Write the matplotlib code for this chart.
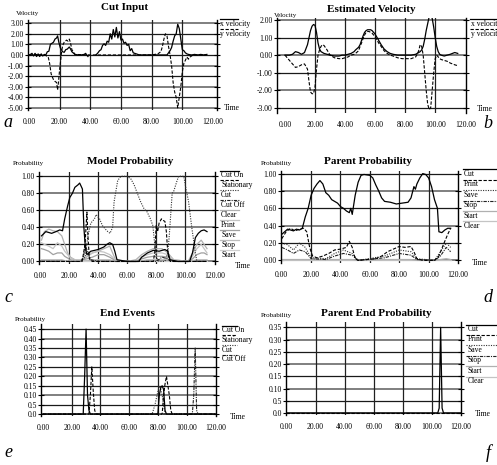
import numpy as np
import matplotlib
matplotlib.use("Agg")
import matplotlib.pyplot as plt
from matplotlib.lines import Line2D

plt.rcParams['font.family'] = ['Liberation Serif', 'DejaVu Serif']

W, H = 497, 465

# ---------------- data ----------------
# a: Cut Input
cut_t_x = [0, 1, 2, 3, 4, 5, 6, 7, 8, 9, 10, 11, 12, 13, 14, 15, 16, 17, 18, 18.7, 19.5, 20.5, 22, 23, 24, 25,
           26.3, 27, 28, 30, 32, 34, 36, 37, 37.6, 38.5, 39, 43.7, 45, 46, 47, 48, 49, 50, 51, 52, 53, 54, 55, 56,
           57, 58, 59, 60, 61, 62, 63, 64, 65, 66, 67, 68, 70, 72, 76, 80, 85, 88, 90, 91, 92, 93, 94, 95, 96,
           97, 98, 99, 100, 101, 102, 103, 104, 106, 108, 110, 112, 114, 116]
cut_x_vel = [0.0, 0.05, 0.15, -0.1, 0.15, -0.15, 0.1, -0.15, 0.1, -0.1, 0.05, 0.0, 0.3, 0.35, 1.0, 1.1, 1.2, 1.5, 1.6, 1.8, 1.2, 0.65, 0.3, 0.25, 0.5, 0.55,
             0.75, 0.6, 0.3, 0.05, 0.0, 0.0, 0.05, 0.15, 0.0, -0.15, np.nan, 0.0, 0.2, 0.4, 0.5, 0.9, 1.05, 0.9, 1.3, 1.2, 2.0, 1.5, 2.4, 1.7,
             2.6, 1.6, 2.2, 1.4, 1.5, 1.1, 1.2, 0.9, 1.0, 0.4, 0.6, 0.2, 0.1, 0.0, 0.0, 0.0, 0.0, 0.0, 0.0, 0.2, 0.4, 0.7, 1.3, 1.8, 2.0,
             2.9, 2.5, 1.5, 0.5, 0.4, 0.2, 0.1, 0.05, 0.0, 0.05, 0.0, 0.05, 0.0, 0.05]
cut_t_y = [0, 4, 8, 11, 12.6, 13.5, 14.5, 15.9, 17, 18, 18.7, 19.3, 20, 20.7, 21.3, 22, 23, 24.5, 25.5, 26.3, 27, 28, 30,
           40, 60, 80, 84, 86, 87, 88, 89, 90, 91, 92, 93, 94, 95, 96, 97, 98, 99, 100, 101, 102, 103, 104, 105, 107, 110, 116]
cut_y_vel = [0.0, 0.05, 0.0, -0.05, -0.2, -0.8, -1.8, -2.3, -2.5, -2.6, -3.3, -2.5, -1.4, -0.5, 0.3, 0.9, 1.2, 1.4, 1.3, 1.5, 1.2, 0.5, 0.05,
             0.0, 0.0, 0.0, 0.1, 0.3, 0.8, 1.5, 2.0, 1.8, 0.8, 0.0, -1.0, -2.6, -3.5, -4.0, -5.0, -4.0, -3.0, -1.6, -0.8, -0.5, -0.2, -0.4, -0.2, 0.0, 0.0, 0.0]

# b: Estimated Velocity
est_t = [0, 3, 5, 7, 9, 11, 13, 15, 16, 17, 18, 19, 20, 21, 22, 23, 24, 25, 26, 28, 30, 33, 36, 38, 40, 42, 44, 46, 47,
         49, 50, 51, 52, 53, 54, 55, 56, 57, 58, 59, 60, 61, 62, 63, 64, 66, 68, 70, 72, 75, 78, 80, 84, 87, 88, 89,
         90, 91, 92, 93, 94, 95, 96, 97, 98, 99, 100, 101, 102, 103, 104, 106, 108, 110, 113, 115]
est_x_vel = [0.0, 0.0, 0.05, 0.2, 0.15, 0.05, 0.15, 0.6, 1.0, 1.4, 1.65, 1.75, 1.7, 1.3, 0.7, 0.35, 0.2, 0.15, 0.1, 0.05, 0.0, -0.05, -0.05, 0.0, 0.0, 0.05, 0.1, 0.2, 0.3,
             0.45, 0.6, 0.85, 1.1, 1.3, 1.4, 1.45, 1.45, 1.45, 1.4, 1.3, 1.2, 1.05, 0.9, 0.75, 0.6, 0.35, 0.2, 0.1, 0.05, 0.0, 0.0, 0.0, 0.0, 0.05, 0.1, 0.15,
             0.2, 0.3, 0.5, 0.9, 1.4, 1.8, 2.2, 2.25, 2.1, 1.6, 1.0, 0.5, 0.2, 0.05, 0.0, -0.05, 0.0, 0.05, 0.15, 0.1]
est_y_vel = [0.0, -0.3, -0.5, -0.7, -0.65, -0.55, -0.5, -0.8, -1.5, -2.1, -2.2, -2.2, -1.8, -0.8, 0.0, 0.3, 0.5, 0.6, 0.55, 0.3, 0.0, -0.15, -0.2, -0.2, -0.15, -0.1, 0.0, 0.05, 0.1,
             0.25, 0.5, 0.7, 0.95, 1.15, 1.3, 1.35, 1.35, 1.3, 1.25, 1.15, 1.05, 0.9, 0.75, 0.6, 0.5, 0.25, 0.1, 0.0, -0.05, -0.15, -0.2, -0.2, -0.2, -0.1, 0.05, 0.25,
             0.6, 0.5, 0.0, -1.0, -2.0, -2.8, -3.1, -3.0, -2.0, -1.0, -0.2, 0.0, -0.1, -0.2, -0.25, -0.3, -0.35, -0.45, -0.55, -0.6]

# c: Model Probability
mp_t = [1, 4, 8, 11, 13.6, 15.5, 17, 19, 20.5, 22.3, 24, 26.2, 27.3, 28.4, 29.2, 30.2, 31.3, 32.3, 35, 40, 44, 46, 48, 50,
        51.5, 53, 60, 68, 70, 74, 78, 82, 86, 88, 89.5, 95, 103, 105, 107, 109, 111, 113, 115]
mp_cut_on = [0.30, 0.35, 0.33, 0.35, 0.37, 0.36, 0.5, 0.65, 0.75, 0.8, 0.87, 0.9, 0.92, 0.88, 0.85, 0.4, 0.15, 0.08, 0.12, 0.14, 0.17, 0.2, 0.22, 0.2,
             0.12, 0.02, 0.0, 0.0, 0.05, 0.1, 0.13, 0.12, 0.14, 0.12, 0.02, 0.0, 0.0, 0.1, 0.28, 0.33, 0.36, 0.37, 0.35]
mp_t2 = [1, 20, 29, 31, 32.3, 33, 34, 36, 60, 78, 79, 80, 81, 82, 83.6, 85, 86, 87, 88, 89, 90, 100, 115]
mp_stationary = [0.0, 0.0, 0.0, 0.2, 0.58, 0.3, 0.03, 0.0, 0.0, 0.0, 0.1, 0.42, 0.35, 0.45, 0.5, 0.48, 0.47, 0.35, 0.1, 0.02, 0.0, 0.0, 0.0]
mp_t3 = [1, 28, 31, 33, 35, 37.5, 38.6, 41, 43, 46, 48.2, 50, 51, 53.5, 55.7, 60, 62.5, 64.8, 67, 69.3, 71.6, 73.8, 76,
         77.7, 79, 80, 82, 86, 88, 89, 91, 92, 94.4, 95.5, 99, 100, 102.3, 104.5, 107, 108, 115]
mp_cut = [0.0, 0.0, 0.05, 0.3, 0.45, 0.5, 0.55, 0.5, 0.42, 0.36, 0.33, 0.4, 0.7, 0.95, 1.0, 1.0, 0.97, 0.9, 0.8, 0.7, 0.62, 0.58, 0.5,
          0.42, 0.2, 0.05, 0.0, 0.0, 0.1, 0.3, 0.8, 0.82, 0.95, 1.0, 1.0, 0.9, 0.7, 0.4, 0.1, 0.0, 0.0]
mp_t4 = [1, 28, 30, 31, 33, 35, 40, 80, 84, 88, 90, 100, 115]
mp_cut_off = [0.0, 0.0, 0.05, 0.2, 0.1, 0.02, 0.0, 0.0, 0.05, 0.03, 0.0, 0.0, 0.0]
mp_tg = [1, 3, 6, 9, 12, 15, 17, 19, 21, 24, 28, 32, 36, 40, 44, 48, 50, 52, 60, 66, 70, 74, 78, 84, 88, 92, 102, 105, 108, 111, 113, 115]
mp_clear = [0.25, 0.35, 0.38, 0.36, 0.35, 0.3, 0.2, 0.1, 0.05, 0.02, 0.0, 0.05, 0.1, 0.12, 0.15, 0.18, 0.1, 0.02, 0.0, 0.02, 0.08, 0.12, 0.15, 0.15, 0.1, 0.02, 0.0, 0.1, 0.2, 0.25, 0.2, 0.15]
mp_print = [0.22, 0.2, 0.18, 0.15, 0.22, 0.18, 0.12, 0.08, 0.04, 0.02, 0.02, 0.06, 0.1, 0.12, 0.11, 0.08, 0.05, 0.01, 0.0, 0.0, 0.05, 0.08, 0.1, 0.1, 0.08, 0.02, 0.0, 0.06, 0.15, 0.2, 0.15, 0.1]
mp_save = [0.15, 0.14, 0.12, 0.08, 0.1, 0.1, 0.06, 0.04, 0.02, 0.01, 0.01, 0.03, 0.05, 0.08, 0.08, 0.05, 0.03, 0.0, 0.0, 0.0, 0.03, 0.05, 0.06, 0.06, 0.05, 0.0, 0.0, 0.03, 0.08, 0.1, 0.1, 0.08]
mp_stop = [0.02, 0.02, 0.02, 0.02, 0.02, 0.02, 0.01, 0.01, 0.01, 0.01, 0.01, 0.01, 0.02, 0.02, 0.02, 0.02, 0.01, 0.0, 0.0, 0.0, 0.01, 0.02, 0.02, 0.02, 0.02, 0.01, 0.0, 0.01, 0.02, 0.02, 0.02, 0.02]
mp_start = [0.005] * len(mp_tg)

# d: Parent Probability
pp_t = [0, 2, 4, 6, 8, 10, 12, 14, 16, 18, 20, 22, 24, 26, 28, 30, 32, 34, 36, 38, 40, 42, 44, 46, 47, 48, 50, 52, 54, 56,
        60, 62, 64, 66, 68, 70, 74, 78, 82, 86, 88, 90, 91, 92, 94, 96, 98, 100, 102, 104, 106, 107, 109, 111, 113, 115]
pp_cut = [0.3, 0.33, 0.36, 0.35, 0.34, 0.36, 0.35, 0.37, 0.5, 0.6, 0.75, 0.83, 0.88, 0.92, 0.88, 0.78, 0.75, 0.7, 0.68, 0.66, 0.62, 0.6, 0.57, 0.55, 0.6, 0.53, 0.75, 0.9, 0.98, 0.99,
          0.98, 0.95, 0.87, 0.8, 0.72, 0.68, 0.67, 0.65, 0.66, 0.67, 0.72, 0.85, 0.82, 0.88, 0.95, 1.0, 0.99, 0.95, 0.85, 0.7, 0.6, 0.33, 0.32, 0.35, 0.37, 0.37]
pp_t2 = [0, 3, 6, 9, 12, 15, 17, 19, 21, 24, 28, 32, 36, 40, 44, 46, 48, 50, 52, 64, 68, 72, 76, 80, 84, 88, 90, 92, 96, 104, 107, 110, 113, 115]
pp_print = [0.25, 0.33, 0.37, 0.34, 0.36, 0.37, 0.33, 0.15, 0.05, 0.03, 0.05, 0.08, 0.12, 0.13, 0.15, 0.22, 0.15, 0.02, 0.0, 0.02, 0.05, 0.1, 0.13, 0.16, 0.15, 0.16, 0.1, 0.02, 0.0, 0.0, 0.05, 0.18, 0.3, 0.37]
pp_t3 = [0, 4, 8, 12, 16, 20, 30, 36, 42, 48, 52, 70, 80, 88, 92, 104, 108, 112, 115]
pp_save = [0.2, 0.18, 0.12, 0.2, 0.15, 0.03, 0.02, 0.08, 0.12, 0.08, 0.0, 0.05, 0.12, 0.1, 0.02, 0.0, 0.1, 0.2, 0.15]
pp_stop = [0.15, 0.12, 0.08, 0.12, 0.1, 0.02, 0.01, 0.05, 0.08, 0.06, 0.0, 0.03, 0.08, 0.06, 0.01, 0.0, 0.05, 0.15, 0.1]
pp_start = [0.01, 0.01, 0.01, 0.01, 0.01, 0.01, 0.01, 0.01, 0.01, 0.01, 0.0, 0.01, 0.01, 0.01, 0.0, 0.0, 0.01, 0.02, 0.01]
pp_clear = [0.0] * len(pp_t3)

# e: End Events
ee_t = [0, 28, 29, 30, 31, 32, 33, 34, 35, 36, 37, 76, 78, 80, 81, 82, 83, 84, 85, 86, 87, 88, 89, 90, 104, 105, 106, 107, 108, 120]
ee_cut_on = [0, 0, 0.2, 0.45, 0.1, 0.02, 0, 0, 0, 0, 0, 0, 0, 0, 0.1, 0.14, 0.15, 0.13, 0.02, 0, 0, 0, 0, 0, 0, 0, 0, 0, 0, 0]
ee_stationary = [0, 0, 0, 0, 0, 0, 0.1, 0.25, 0.12, 0.02, 0, 0, 0, 0, 0, 0, 0, 0.1, 0.16, 0.2, 0.15, 0.1, 0.02, 0, 0, 0, 0, 0, 0, 0]
ee_cut = [0, 0, 0, 0, 0, 0, 0, 0, 0, 0, 0, 0, 0.05, 0.12, 0.15, 0.13, 0.1, 0.05, 0, 0, 0, 0, 0, 0, 0, 0, 0, 0, 0, 0]
ee_cut_off = [0, 0, 0, 0, 0, 0, 0, 0, 0, 0, 0, 0, 0, 0, 0, 0, 0, 0, 0, 0, 0, 0, 0, 0, 0, 0.1, 0.35, 0.02, 0, 0]

# f: Parent End Probability
pe_t = [0, 104, 105, 106, 107, 108, 120]
pe_cut = [0, 0, 0.02, 0.35, 0.02, 0, 0]
pe_zero = [0, 0, 0, 0, 0, 0, 0]

time_ticks = [0, 20, 40, 60, 80, 100, 120]
time_labels = ['%.2f' % v for v in time_ticks]
vel_ticks_a = [3, 2, 1, 0, -1, -2, -3, -4, -5]
vel_ticks_b = [2, 1, 0, -1, -2, -3]
prob_ticks = [0, 0.2, 0.4, 0.6, 0.8, 1.0]
end_ticks_e = [0, 0.05, 0.10, 0.15, 0.20, 0.25, 0.30, 0.35, 0.40, 0.45]
end_ticks_f = [0, 0.05, 0.10, 0.15, 0.20, 0.25, 0.30, 0.35]
end_labels = ['0.0', '0.5', '0.10', '0.15', '0.20', '0.25', '0.30', '0.35', '0.40', '0.45']

# ---------------- figure ----------------
fig = plt.figure(figsize=(W / 100, H / 100), dpi=100)

SOLID = dict(color='black', lw=0.9)
DASH = dict(color='black', lw=0.8, dashes=(3, 1.5))
DOT = dict(color='#333333', lw=0.8, dashes=(1, 1.2))
DDOT = dict(color='#222222', lw=0.8, dashes=(3, 1, 1, 1))


def fx(x):
    return x / W


def fy(y):
    return 1 - y / H


def make_axes(l, t, r, b, xlim, ylim, yticks, ylabels):
    ax = fig.add_axes([fx(l), fy(b), fx(r - l), (b - t) / H])
    ax.set_xlim(*xlim)
    ax.set_ylim(*ylim)
    for s in ['top', 'bottom']:
        ax.spines[s].set_visible(False)
    for s in ['left', 'right']:
        ax.spines[s].set_linewidth(1.0)
    # horizontal lines alternate grey / black as in the original
    for i, v in enumerate(yticks):
        ax.axhline(v, color='#6a6a6a' if i % 2 == 0 else '#1a1a1a', lw=1.2 if i % 2 == 0 else 0.9, zorder=0)
    for v in [20, 40, 60, 80, 100]:
        ax.axvline(v, color='#202020', lw=0.9, zorder=0)
    ax.set_yticks(yticks)
    ax.set_yticklabels(ylabels, fontsize=5.5)
    ax.set_xticks(time_ticks)
    ax.set_xticklabels(time_labels, fontsize=5.5)
    ax.tick_params(axis='y', direction='inout', length=4, width=0.8, pad=1, left=True, right=True)
    ax.tick_params(axis='x', length=0, pad=6)
    return ax


def legend(x0, x1, xt, y0, dy, labels, styles):
    for i, (lab, st) in enumerate(zip(labels, styles)):
        yl = y0 + i * dy
        fig.add_artist(Line2D([fx(x0), fx(x1)], [fy(yl - 4.5), fy(yl - 4.5)], **st))
        fig.text(fx(xt), fy(yl), lab, fontsize=5.5, ha='left', va='center')


def texts(title, tx, ty, ylab, yx, yy, timex, timey):
    fig.text(fx(tx), fy(ty), title, fontsize=8, fontweight='bold', ha='center', va='center')
    fig.text(fx(yx), fy(yy), ylab, fontsize=5, ha='center', va='center')
    fig.text(fx(timex), fy(timey), 'Time', fontsize=5.5, ha='center', va='center')


# a
ax = make_axes(28, 20, 217, 110, (-0.6, 122.6), (-5.2, 3.3), vel_ticks_a, ['%.2f' % v for v in vel_ticks_a])
ax.plot(cut_t_x, cut_x_vel, **SOLID)
ax.plot(cut_t_y, cut_y_vel, **DASH)
texts('Cut Input', 125, 8, 'Velocity', 28, 13, 232, 108)
legend(220, 238, 220, 24, 10, ['x velocity', 'y velocity'], [SOLID, DASH])

# b
ax = make_axes(277, 18, 466, 113, (-5.3, 120.5), (-3.3, 2.12), vel_ticks_b, ['%.2f' % v for v in vel_ticks_b])
ax.plot(est_t, est_x_vel, **SOLID)
ax.plot(est_t, est_y_vel, **DASH)
texts('Estimated Velocity', 371, 9, 'Velocity', 286, 15, 485, 109)
legend(470, 497, 471, 24, 10, ['x velocity', 'y velocity'], [SOLID, DASH])

# c
grays = [dict(color=c, lw=0.9) for c in ['#b0b0b0', '#c4c4c4', '#a0a0a0', '#bcbcbc', '#d0d0d0']]
ax = make_axes(39, 172, 215, 264, (-0.7, 120.5), (-0.03, 1.05), prob_ticks, ['%.2f' % v for v in prob_ticks])
for vals, st in zip([mp_clear, mp_print, mp_save, mp_stop, mp_start], grays):
    ax.plot(mp_tg, vals, **st)
ax.plot(mp_t3, mp_cut, **DOT)
ax.plot(mp_t4, mp_cut_off, **DDOT)
ax.plot(mp_t2, mp_stationary, **DASH)
ax.plot(mp_t, mp_cut_on, **SOLID)
texts('Model Probability', 130, 161, 'Probability', 28, 164, 243, 266)
legend(220, 239, 221, 175, 10, ['Cut On', 'Stationary', 'Cut', 'Cut Off', 'Clear', 'Print', 'Save', 'Stop', 'Start'],
       [SOLID, DASH, DOT, DDOT] + grays)

# d
ax = make_axes(281, 171, 458, 263, (-0.5, 120), (-0.03, 1.03), prob_ticks, ['%.2f' % v for v in prob_ticks])
ax.plot(pp_t3, pp_clear, **grays[1])
ax.plot(pp_t3, pp_start, **grays[0])
ax.plot(pp_t3, pp_stop, **DDOT)
ax.plot(pp_t3, pp_save, **DOT)
ax.plot(pp_t2, pp_print, **DASH)
ax.plot(pp_t, pp_cut, **SOLID)
texts('Parent Probability', 368, 161, 'Probability', 276, 163, 480, 263)
legend(463, 497, 464, 174, 10.4, ['Cut', 'Print', 'Save', 'Stop', 'Start', 'Clear'],
       [SOLID, DASH, DOT, DDOT, grays[0], grays[1]])

# e
ax = make_axes(41, 324, 216, 416, (-1.4, 120.5), (-0.01, 0.477), end_ticks_e, end_labels)
ax.plot(ee_t, ee_cut_off, **DDOT)
ax.plot(ee_t, ee_cut, **DOT)
ax.plot(ee_t, ee_stationary, **DASH)
ax.plot(ee_t, ee_cut_on, **SOLID)
texts('End Events', 127, 313, 'Probability', 30, 319, 238, 417)
legend(222, 237, 222, 330, 9.8, ['Cut On', 'Stationary', 'Cut', 'Cut Off'], [SOLID, DASH, DOT, DDOT])

# f
ax = make_axes(286, 322, 461, 415, (-0.3, 120), (-0.008, 0.372), end_ticks_f, end_labels[:8])
ax.plot(pe_t, pe_zero, **DASH)
ax.plot(pe_t, pe_cut, **SOLID)
texts('Parent End Probability', 376, 313, 'Probability', 276, 316, 483, 414)
legend(466, 497, 468, 329, 10.4, ['Cut', 'Print', 'Save', 'Stop', 'Start', 'Clear'],
       [SOLID, DASH, DOT, DDOT, grays[0], grays[1]])

# panel letters
for letter, x, y in [('a', 8, 122), ('b', 488, 124), ('c', 8, 297), ('d', 488, 297), ('e', 8, 452), ('f', 488, 453)]:
    fig.text(fx(x), fy(y), letter, fontsize=13, fontstyle='italic', ha='center', va='center')

fig.savefig('out.png', dpi=100)
